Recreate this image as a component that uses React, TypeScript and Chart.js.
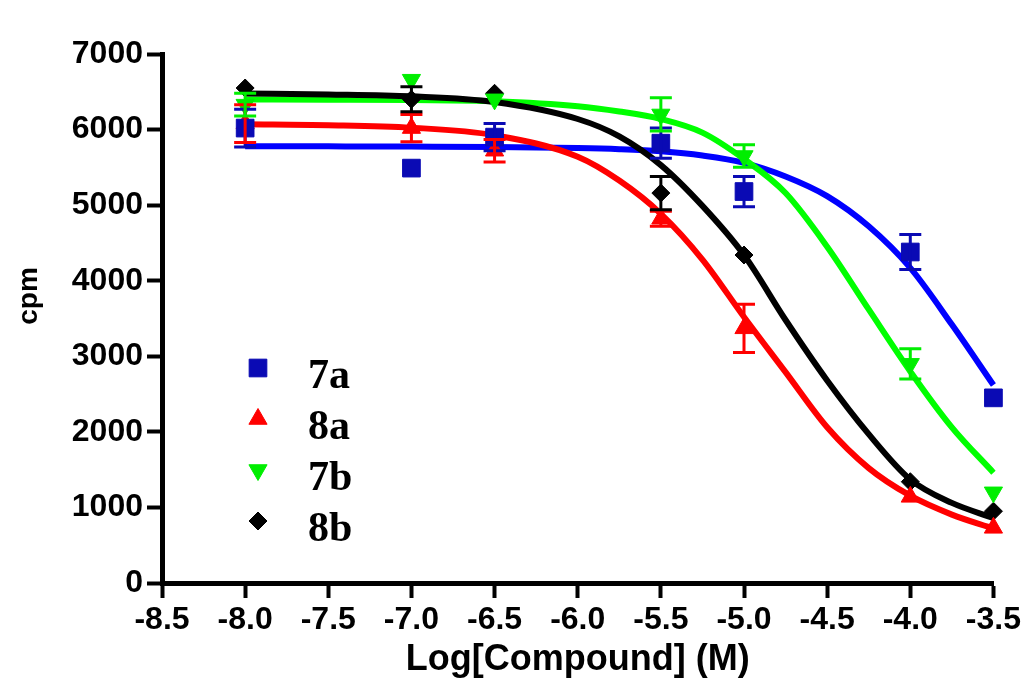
import React, { useEffect, useRef } from 'react';
import { Chart, registerables } from 'chart.js';
import { drawPoint } from 'chart.js/helpers';

Chart.register(...registerables);

// measured doses, log[M]
const doses = [-8.0, -7.0, -6.5, -5.5, -5.0, -4.0, -3.5];

// mean cpm per compound
const cpm7a = [6020, 5490, 5900, 5820, 5180, 4380, 2450];
const cpm8a = [6080, 6020, 5720, 4820, 3370, 1140, 730];
const cpm7b = [6330, 6660, 6400, 6200, 5650, 2900, 1200];
const cpm8b = [6550, 6400, 6480, 5160, 4340, 1340, 950];

// error bar half heights (0 = none drawn)
const err7a = [250, 0, 180, 200, 200, 230, 0];
const err8a = [250, 180, 150, 100, 320, 0, 0];
const err7b = [150, 0, 0, 220, 150, 200, 0];
const err8b = [0, 165, 0, 220, 0, 0, 0];

// fitted curves
const fitX = [-8.0, -7.5, -7.0, -6.5, -6.0, -5.75, -5.5, -5.25, -5.0, -4.75, -4.5, -4.25, -4.0, -3.75, -3.5];
const fit7a = [5780, 5778, 5775, 5770, 5755, 5740, 5712, 5656, 5560, 5380, 5120, 4720, 4170, 3420, 2620];
const fit8a = [6070, 6058, 6025, 5925, 5640, 5325, 4885, 4280, 3520, 2790, 2060, 1520, 1155, 905, 720];
const fit7b = [6398, 6395, 6390, 6375, 6310, 6240, 6140, 5960, 5610, 5160, 4450, 3620, 2800, 2060, 1460];
const fit8b = [6478, 6465, 6440, 6365, 6140, 5910, 5530, 4990, 4340, 3480, 2680, 1970, 1370, 1060, 860];

const SERIES = [
  { name: '7a', values: cpm7a, err: err7a, fit: fit7a, line: '#0000ff', mark: '#0a0ab4', style: 'rect', radius: 12.5, rotation: 0 },
  { name: '8a', values: cpm8a, err: err8a, fit: fit8a, line: '#ff0000', mark: '#ff0000', style: 'triangle', radius: 10.5, rotation: 0 },
  { name: '7b', values: cpm7b, err: err7b, fit: fit7b, line: '#00ff00', mark: '#00ee00', style: 'triangle', radius: 10.5, rotation: 180 },
  { name: '8b', values: cpm8b, err: err8b, fit: fit8b, line: '#000000', mark: '#000000', style: 'rectRot', radius: 9, rotation: 0 },
];

const SANS = "'Liberation Sans', Arial, sans-serif";

const errorBars = {
  id: 'errorBars',
  afterDatasetsDraw(chart: any) {
    const { ctx, scales } = chart;
    ctx.save();
    ctx.lineWidth = 3;
    SERIES.forEach((s) => {
      ctx.strokeStyle = s.mark;
      doses.forEach((d, i) => {
        const e = s.err[i];
        if (!e) return;
        const px = scales.x.getPixelForValue(d);
        const top = scales.y.getPixelForValue(s.values[i] + e);
        const bot = scales.y.getPixelForValue(s.values[i] - e);
        ctx.beginPath();
        ctx.moveTo(px, top);
        ctx.lineTo(px, bot);
        ctx.moveTo(px - 11, top);
        ctx.lineTo(px + 11, top);
        ctx.moveTo(px - 11, bot);
        ctx.lineTo(px + 11, bot);
        ctx.stroke();
      });
    });
    ctx.restore();
  },
};

// legend sits inside the plot, lower left
const insideLegend = {
  id: 'insideLegend',
  afterDraw(chart: any) {
    const { ctx, chartArea } = chart;
    const mx = chartArea.left + 96;
    const tx = chartArea.left + 146;
    ctx.save();
    ctx.font = "bold 42px 'Liberation Serif', 'Times New Roman', serif";
    ctx.textBaseline = 'alphabetic';
    ctx.textAlign = 'left';
    SERIES.forEach((s, i) => {
      const my = chartArea.top + 314 + i * 51;
      ctx.fillStyle = s.mark;
      ctx.strokeStyle = s.mark;
      drawPoint(ctx, { pointStyle: s.style, radius: s.radius, rotation: s.rotation, borderWidth: 1 } as any, mx, my);
      ctx.fillStyle = '#000';
      ctx.fillText(s.name, tx, my + 20);
    });
    ctx.restore();
  },
};

const yTitle = {
  id: 'yTitle',
  afterDraw(chart: any) {
    const { ctx } = chart;
    ctx.save();
    ctx.translate(37, 296);
    ctx.rotate(-Math.PI / 2);
    ctx.font = `bold 28px ${SANS}`;
    ctx.fillStyle = '#000';
    ctx.textAlign = 'center';
    ctx.textBaseline = 'alphabetic';
    ctx.fillText('cpm', 0, 0);
    ctx.restore();
  },
};

const App: React.FC = () => {
  const canvasRef = useRef<HTMLCanvasElement>(null);
  const chartRef = useRef<Chart | null>(null);

  useEffect(() => {
    if (!canvasRef.current) return;
    if (chartRef.current) chartRef.current.destroy();

    const markerSets = SERIES.map((s) => ({
      label: s.name,
      data: doses.map((d, i) => ({ x: d, y: s.values[i] })),
      showLine: false,
      pointStyle: s.style,
      pointRadius: s.radius,
      pointRotation: s.rotation,
      pointBackgroundColor: s.mark,
      pointBorderColor: s.mark,
      pointBorderWidth: 1,
      clip: false as any,
    }));

    // curves: first in the list is drawn on top
    const fitSets = [3, 2, 1, 0].map((k) => ({
      label: SERIES[k].name + ' fit',
      data: fitX.map((x, i) => ({ x, y: SERIES[k].fit[i] })),
      showLine: true,
      borderColor: SERIES[k].line,
      borderWidth: 6,
      pointRadius: 0,
      cubicInterpolationMode: 'monotone' as const,
      clip: false as any,
    }));

    const axisFont = { family: SANS, size: 32, weight: 'bold' as const };

    chartRef.current = new Chart(canvasRef.current, {
      type: 'scatter',
      data: { datasets: [...markerSets, ...fitSets] as any },
      plugins: [errorBars, insideLegend, yTitle],
      options: {
        animation: false,
        responsive: true,
        maintainAspectRatio: false,
        layout: { padding: { left: 0, top: 54, right: 30, bottom: 0 } },
        scales: {
          x: {
            type: 'linear',
            min: -8.5,
            max: -3.5,
            afterFit: (scale: any) => { scale.height = 105; },
            ticks: {
              stepSize: 0.5,
              autoSkip: false,
              maxRotation: 0,
              padding: 3,
              color: '#000',
              font: axisFont,
              callback: (v: any) => Number(v).toFixed(1),
            },
            grid: { drawOnChartArea: false, drawTicks: true, tickLength: 15, tickWidth: 4, tickColor: '#000' },
            border: { display: true, width: 5, color: '#000' },
            title: {
              display: true,
              text: 'Log[Compound] (M)',
              color: '#000',
              font: { family: SANS, size: 36, weight: 'bold' },
              padding: { top: 0, bottom: 6 },
            },
          },
          y: {
            min: 0,
            max: 7000,
            afterFit: (scale: any) => { scale.width = 162; },
            ticks: {
              stepSize: 1000,
              padding: 4,
              color: '#000',
              font: axisFont,
              callback: (v: any) => String(v),
            },
            grid: { drawOnChartArea: false, drawTicks: true, tickLength: 15, tickWidth: 4, tickColor: '#000' },
            border: { display: true, width: 5, color: '#000' },
          },
        },
        plugins: {
          legend: { display: false },
          tooltip: { enabled: false },
        },
      },
    });

    return () => {
      if (chartRef.current) {
        chartRef.current.destroy();
        chartRef.current = null;
      }
    };
  }, []);

  return (
    <div style={{ position: 'fixed', left: 0, top: 0, width: 1024, height: 688, background: '#fff' }}>
      <canvas ref={canvasRef} role="img" aria-label="cpm versus Log[Compound] for compounds 7a, 8a, 7b and 8b" />
    </div>
  );
};

export default App;
